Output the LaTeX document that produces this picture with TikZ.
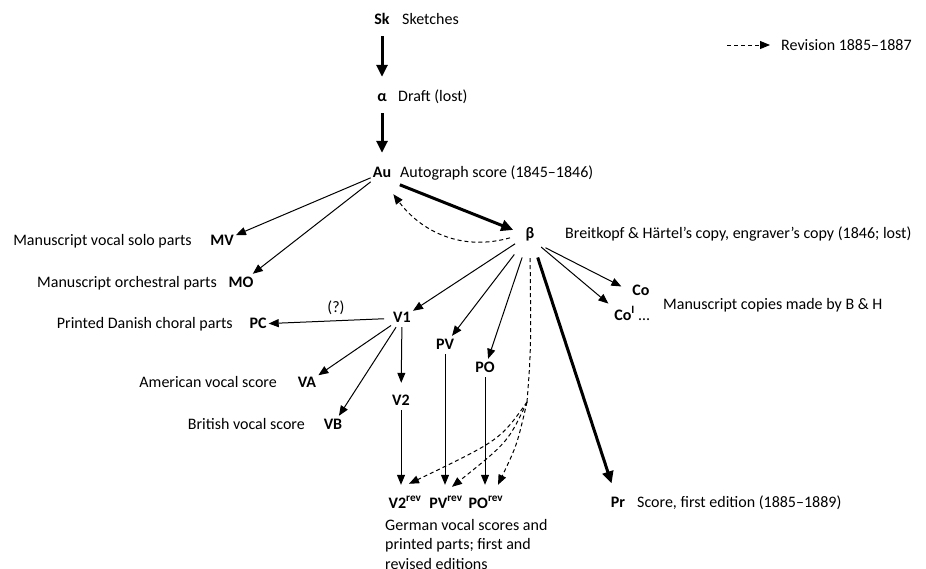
\documentclass[tikz,border=0pt]{standalone}
\usepackage{fontspec}
\setmainfont{Carlito}
\usetikzlibrary{arrows.meta}
\tikzset{
  siglum/.style={font=\fontsize{16}{19}\selectfont\bfseries, inner sep=2pt, text height=11pt, text depth=3pt, anchor=base},
  desc/.style={font=\fontsize{16}{19.5}\selectfont, inner sep=0pt},
  copyarrow/.style={line width=1pt, -{Triangle[length=10pt,width=8pt]}},
  mainarrow/.style={line width=3pt, -{Triangle[length=12pt,width=11pt]}, shorten <=7pt, shorten >=11pt},
  revarrow/.style={line width=1pt, dash pattern=on 4pt off 3pt, -{Triangle[length=10pt,width=8pt]}}
}
\begin{document}
\begin{tikzpicture}[x=1pt,y=-1pt]
  \useasboundingbox (0,0) rectangle (926,568);
  % Sigla
  \node[siglum] (Sk) at (382,24) {Sk};
  \node[siglum] (alpha) at (382,101) {α};
  \node[siglum] (Au) at (382,177) {Au};
  \node[siglum] (beta) at (530,238) {β};
  \node[siglum] (MV) at (222,245) {MV};
  \node[siglum] (MO) at (241,287) {MO};
  \node[siglum] (V1) at (402,322) {V1};
  \node[siglum] (PC) at (258,328) {PC};
  \node[siglum] (PV) at (445,349) {PV};
  \node[siglum] (PO) at (485,372) {PO};
  \node[siglum] (VA) at (307,387) {VA};
  \node[siglum] (VB) at (333,429) {VB};
  \node[siglum] (V2) at (401,405) {V2};
  \node[siglum] (V2rev) at (405,508) {V2\textsuperscript{rev}};
  \node[siglum] (PVrev) at (446,508) {PV\textsuperscript{rev}};
  \node[siglum] (POrev) at (486,508) {PO\textsuperscript{rev}};
  \node[siglum] (Co) at (641,295) {Co};
  \node[siglum] (CoI) at (632,320) {Co\textsuperscript{I} \textnormal{…}};
  \node[siglum] (Pr) at (618,507) {Pr};
  \coordinate (split) at (527,402);

  % Labels
  \node[desc, anchor=base west] (Sktxt) at (402,24) {Sketches};
  \node[desc, anchor=base west] (alphatxt) at (398,101) {Draft (lost)};
  \node[desc, anchor=base west] (Autxt) at (400,177) {Autograph score (1845--1846)};
  \node[desc, anchor=base west] (betatxt) at (565,238) {Breitkopf \& Härtel’s copy, engraver’s copy (1846; lost)};
  \node[desc, anchor=base east] (MVtxt) at (192,245) {Manuscript vocal solo parts};
  \node[desc, anchor=base east] (MOtxt) at (217,287) {Manuscript orchestral parts};
  \node[desc, anchor=base east] (PCtxt) at (233,328) {Printed Danish choral parts};
  \node[desc, anchor=base east] (VAtxt) at (277,387) {American vocal score};
  \node[desc, anchor=base east] (VBtxt) at (305,429) {British vocal score};
  \node[desc, anchor=base west] (Cotxt) at (663,309) {Manuscript copies made by B \& H};
  \node[desc, anchor=base west] (Prtxt) at (637,507) {Score, first edition (1885--1889)};
  \node[desc, anchor=north west, align=left] (revtxt) at (385,519) {German vocal scores and\\printed parts; first and\\revised editions};

  % Legend
  \coordinate (legstart) at (727,45);
  \node[desc, anchor=west] (legtxt) at (781,45) {Revision 1885--1887};
  \draw[revarrow, shorten >=11pt] (legstart) -- (legtxt.west);

  % Main line of transmission
  \draw[mainarrow] (Sk) -- (alpha);
  \draw[mainarrow] (alpha) -- (Au);
  \draw[mainarrow] (Au.south east) -- (beta.west);
  \draw[mainarrow, shorten <=15pt] (beta) -- (Pr);

  % Copies of the autograph
  \draw[copyarrow] (Au) -- (MV);
  \draw[copyarrow] (Au) -- (MO);

  % Copies of the engraver's copy
  \draw[copyarrow, shorten <=10pt] (beta) -- (V1);
  \draw[copyarrow, shorten <=15pt] (beta) -- (PV);
  \draw[copyarrow, shorten <=15pt] (beta) -- (PO);
  \draw[copyarrow, shorten <=10pt, shorten >=10pt] (beta.south east) -- (Co.west);
  \draw[copyarrow, shorten <=6pt, shorten >=5pt] (beta.south east) -- (CoI.north west);

  % Vocal scores
  \draw[copyarrow, shorten <=7pt] (V1) -- node[desc, above=6pt, pos=.45] (PCq) {(?)} (PC);
  \draw[copyarrow] (V1) -- (VA);
  \draw[copyarrow] (V1) -- (VB);
  \draw[copyarrow, shorten >=9pt] (V1) -- (V2);
  \draw[copyarrow, shorten >=10pt] (V2) -- (V2 |- V2rev.north);
  \draw[copyarrow, shorten >=10pt] (PV) -- (PV |- PVrev.north);
  \draw[copyarrow, shorten >=10pt] (PO) -- (PO |- POrev.north);

  % Revision
  \draw[revarrow, shorten <=14pt] (beta.west) .. controls (460,252) and (420,230) .. ([yshift=-12pt]Au.south east);
  \draw[revarrow, -, shorten <=15pt] (beta.south) .. controls (531,350) .. (split);
  \draw[revarrow] (split) .. controls (500,440) .. ([xshift=4pt,yshift=11pt]V2rev.north);
  \draw[revarrow] (split) .. controls (508,442) .. ([xshift=6pt,yshift=8pt]PVrev.north);
  \draw[revarrow] (split) .. controls (517,445) .. ([xshift=12pt,yshift=10pt]POrev.north);
\end{tikzpicture}
\end{document}
